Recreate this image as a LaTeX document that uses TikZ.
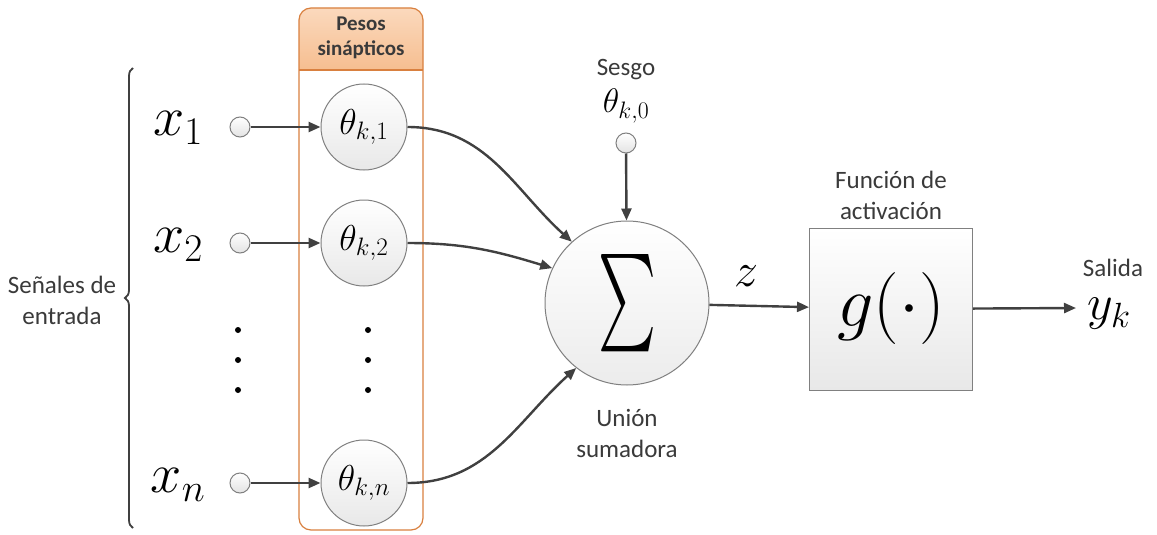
\RequirePackage{fix-cm}
\documentclass[tikz,border=0pt]{standalone}
\usepackage[no-math]{fontspec}
\usepackage{graphicx}
\setmainfont{Carlito}
\usetikzlibrary{arrows.meta,decorations.pathreplacing}
\definecolor{lnc}{HTML}{404040}
\definecolor{txc}{HTML}{3A3A3A}
\definecolor{brd}{HTML}{808080}
\definecolor{orb}{HTML}{D9803F}
\definecolor{orf1}{HTML}{FBD9BD}
\definecolor{orf2}{HTML}{F6BE90}
\tikzset{
  arr/.style={draw=lnc,line width=2.4pt,-{Triangle[length=12pt,width=10pt]}},
  inp/.style={circle,draw=brd,line width=1pt,top color=white,bottom color=gray!22,minimum size=20pt,inner sep=0pt},
  wnode/.style={circle,draw=brd,line width=1pt,top color=white,bottom color=gray!18,minimum size=86pt,inner sep=0pt},
  lbl/.style={text=txc,align=center,inner sep=1pt,font=\fontsize{25}{31}\selectfont},
  bigm/.style={font=\fontsize{56}{60}\selectfont},
  dotn/.style={circle,fill=black,minimum size=6pt,inner sep=0pt},
}
\begin{document}
\begin{tikzpicture}[x=1pt,y=-1pt]
\useasboundingbox[fill=white] (0,0) rectangle (1157,535);
% orange box
\begin{scope}
\clip[rounded corners=12pt] (299,8) rectangle (423,530);
\shade[top color=orf1,bottom color=orf2] (299,8) rectangle (423,70);
\end{scope}
\draw[orb,line width=1.2pt,rounded corners=12pt] (299,8) rectangle (423,530);
\draw[orb,line width=1.2pt] (299,70) -- (423,70);
\node[font=\bfseries\fontsize{21}{25}\selectfont,text=txc,align=center] (hdr) at (361,38) {Pesos\\sinápticos};
% brace
\coordinate (bb) at (133,528);
\coordinate (bt) at (133,68);
\draw[lnc,line width=1.8pt,decorate,decoration={brace,amplitude=8pt}] (bb) -- (bt);
\node[lbl] (sen) at (62,300) {Señales de\\entrada};
% inputs
\node[bigm] (x1) at (178,128) {$x_1$};
\node[bigm] (x2) at (178,245) {$x_2$};
\node[bigm] (xn) at (178,485) {$x_n$};
\node[inp] (i1) at (240,127) {};
\node[inp] (i2) at (240,243) {};
\node[inp] (in) at (240,483) {};
\node[wnode,font=\fontsize{36}{38}\selectfont] (t1) at (364,127) {$\theta_{k,1}$};
\node[wnode,font=\fontsize{36}{38}\selectfont] (t2) at (364,243) {$\theta_{k,2}$};
\node[wnode,font=\fontsize{36}{38}\selectfont] (tn) at (364,483) {$\theta_{k,n}$};
\draw[arr] (i1) -- (t1);
\draw[arr] (i2) -- (t2);
\draw[arr] (in) -- (tn);
% dots
\foreach \yy [count=\i] in {330,360,390}{
  \node[dotn] (da\i) at (238,\yy) {};
  \node[dotn] (db\i) at (368,\yy) {};
}
% sum
\node[circle,draw=brd,line width=1pt,top color=white,bottom color=gray!15,minimum size=164pt,inner sep=0pt] (s) at (627,303) {\resizebox{58pt}{73pt}{$\textstyle\sum$}};
\draw[arr] (t1.east) to[out=0,in=138] (s.132);
\draw[arr] (t2.east) to[out=0,in=163] (s.155);
\draw[arr] (tn.east) to[out=0,in=-138] (s.-128);
% bias
\node[lbl] (sesgo) at (626,70) {Sesgo};
\node[font=\fontsize{34}{36}\selectfont] (th0) at (626,106) {$\theta_{k,0}$};
\node[inp] (b) at (626,143) {};
\draw[arr] (b) -- (s);
\node[lbl] (union) at (627,433) {Unión\\sumadora};
% activation
\node[draw=brd,line width=1pt,top color=white,bottom color=gray!18,minimum width=163pt,minimum height=162pt,inner sep=0pt,font=\fontsize{72}{74}\selectfont] (g) at (891,309) {$g(\cdot)$};
\node[lbl] (fa) at (891,195) {Función de\\activación};
\node[font=\fontsize{48}{50}\selectfont] (z) at (746,276) {$z$};
\draw[arr] (s) -- (g);
\coordinate (out) at (1076,308);
\draw[arr] (g) -- (out);
\node[lbl] (sal) at (1113,268) {Salida};
\node[font=\fontsize{50}{52}\selectfont,inner sep=0pt] (yk) at (1109,314) {$y_k$};
\end{tikzpicture}
\end{document}
